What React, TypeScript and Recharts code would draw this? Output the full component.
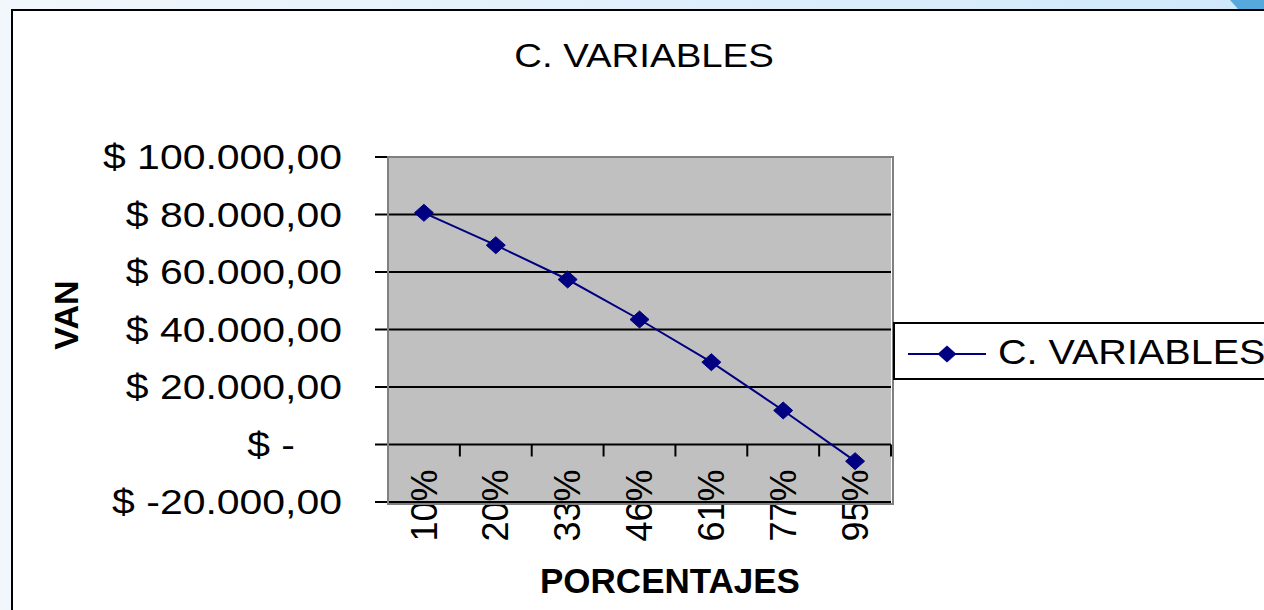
import React from 'react'
import { CartesianGrid, Line, LineChart, XAxis, YAxis } from 'recharts'

const porcentajes = ['10%', '20%', '33%', '46%', '61%', '77%', '95%']
const van = [80590, 69320, 57390, 43480, 28630, 11830, -5800]
const yTicks = [-20000, 0, 20000, 40000, 60000, 80000, 100000]
const yDomain: [number, number] = [-20000, 100000]
const seriesName = 'C. VARIABLES'

const data = porcentajes.map((p, i) => ({ pct: p, van: van[i] }))

const FONT = '"Liberation Sans", Arial, sans-serif'
const NAVY = '#000080'

// plot box in page pixels
const PLOT_LEFT = 388
const PLOT_TOP = 157
const PLOT_W = 503
const PLOT_H = 345
const BAND = PLOT_W / porcentajes.length
const ZERO_Y = PLOT_TOP + (PLOT_H * yDomain[1]) / (yDomain[1] - yDomain[0])

function money(v: number) {
  if (v === 0) return '$ -'
  const s = String(Math.abs(v)).replace(/\B(?=(\d{3})+(?!\d))/g, '.') + ',00'
  return v < 0 ? `$ -${s}` : `$ ${s}`
}

function YTick({ x, y, payload }: any) {
  const v = payload.value as number
  const endX = v === 0 ? x - 78 : x - 31
  return (
    <g transform={`translate(${endX},${y}) scale(1.17,1)`}>
      <text x={0} y={0} dy="0.35em" textAnchor="end" fontSize={35} fontFamily={FONT} fill="#000">
        {money(v)}
      </text>
    </g>
  )
}

function XTick({ x, payload }: any) {
  return (
    <g>
      <line x1={x + BAND / 2} x2={x + BAND / 2} y1={ZERO_Y} y2={ZERO_Y + 12} stroke="#000" strokeWidth={2} />
      <text
        transform={`translate(${x},${ZERO_Y + 25}) rotate(-90)`}
        dy="0.35em"
        textAnchor="end"
        fontSize={36}
        fontFamily={FONT}
        fill="#000"
      >
        {payload.value}
      </text>
    </g>
  )
}

function Diamond({ cx, cy, index }: any) {
  if (cx == null || cy == null) return null
  return (
    <polygon
      key={`d-${index}`}
      points={`${cx},${cy - 8.5} ${cx + 9.5},${cy} ${cx},${cy + 8.5} ${cx - 9.5},${cy}`}
      fill={NAVY}
      stroke={NAVY}
      strokeWidth={1}
    />
  )
}

function LegendBox({ name }: { name: string }) {
  return (
    <div
      style={{
        position: 'absolute',
        left: 893,
        top: 322,
        width: 400,
        height: 54,
        background: '#fff',
        border: '2px solid #000',
        fontFamily: FONT,
      }}
    >
      <svg width={90} height={54} style={{ position: 'absolute', left: 13, top: 0 }}>
        <line x1={0} x2={78} y1={30} y2={30} stroke={NAVY} strokeWidth={2} />
        <polygon points="39,21.5 48.5,30 39,38.5 29.5,30" fill={NAVY} />
      </svg>
      <span
        style={{
          position: 'absolute',
          left: 103,
          top: 10,
          fontSize: 35,
          lineHeight: '35px',
          transform: 'scaleX(1.13)',
          transformOrigin: 'left',
          whiteSpace: 'nowrap',
          color: '#000',
        }}
      >
        {name}
      </span>
    </div>
  )
}

export default function App() {
  return (
    <div
      style={{
        position: 'absolute',
        left: 0,
        top: 0,
        width: 1264,
        height: 610,
        overflow: 'hidden',
        background: 'linear-gradient(to right, #f2f7fc, #cfe8fa)',
      }}
    >
      <div
        style={{
          position: 'absolute',
          left: 1230,
          top: 0,
          width: 40,
          height: 9,
          background: '#55a9dd',
          clipPath: 'polygon(0 0, 100% 0, 100% 100%, 8px 100%)',
        }}
      />
      <div
        style={{
          position: 'absolute',
          left: 11,
          top: 9,
          width: 1300,
          height: 640,
          background: '#fff',
          border: '2px solid #000',
        }}
      />
      <div style={{ position: 'absolute', left: 0, top: 0 }}>
        <LineChart
          width={1264}
          height={610}
          data={data}
          margin={{ top: PLOT_TOP, right: 1264 - PLOT_LEFT - PLOT_W, bottom: 8, left: PLOT_LEFT - 300 }}
        >
          <CartesianGrid vertical={false} fill="#c0c0c0" stroke="#000" strokeWidth={2} strokeOpacity={1} />
          <XAxis
            dataKey="pct"
            height={610 - PLOT_TOP - PLOT_H - 8}
            padding={{ left: BAND / 2, right: BAND / 2 }}
            axisLine={false}
            tickLine={false}
            interval={0}
            tick={XTick}
          />
          <YAxis
            type="number"
            domain={yDomain}
            ticks={yTicks}
            interval={0}
            width={300}
            tickSize={13}
            axisLine={{ stroke: '#000', strokeWidth: 2 }}
            tickLine={{ stroke: '#000', strokeWidth: 2 }}
            tick={YTick}
          />
          <Line
            type="linear"
            dataKey="van"
            name={seriesName}
            stroke={NAVY}
            strokeWidth={2}
            dot={Diamond}
            activeDot={false}
            isAnimationActive={false}
          />
        </LineChart>
      </div>
      <div
        style={{
          position: 'absolute',
          left: PLOT_LEFT - 1,
          top: PLOT_TOP - 1,
          width: PLOT_W,
          height: PLOT_H,
          border: '2px solid #808080',
          pointerEvents: 'none',
        }}
      />
      <LegendBox name={seriesName} />
      <svg width={1264} height={610} style={{ position: 'absolute', left: 0, top: 0, pointerEvents: 'none' }}>
        <g transform="translate(644,67) scale(1.13,1)">
          <text x={0} y={0} textAnchor="middle" fontSize={34} fontFamily={FONT} fill="#000">
            {seriesName}
          </text>
        </g>
        <text
          transform="translate(78,315) rotate(-90)"
          textAnchor="middle"
          fontSize={34}
          fontWeight="bold"
          fontFamily={FONT}
          fill="#000"
        >
          VAN
        </text>
        <text x={670} y={593} textAnchor="middle" fontSize={35} fontWeight="bold" fontFamily={FONT} fill="#000">
          PORCENTAJES
        </text>
      </svg>
    </div>
  )
}
